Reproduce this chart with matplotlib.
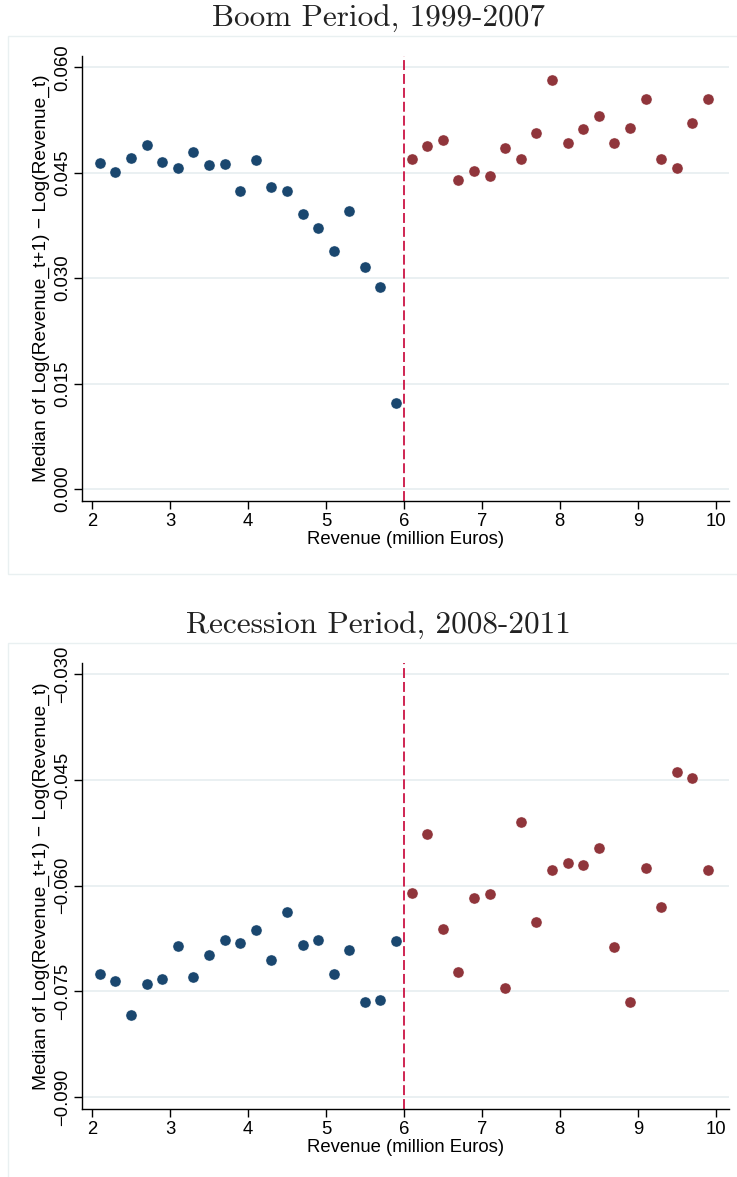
import numpy as np
import matplotlib
matplotlib.use("Agg")
import matplotlib.pyplot as plt
from matplotlib.patches import Rectangle
from matplotlib.ticker import FuncFormatter

# bins of revenue (million euros), 0.2 wide
x_below = [2.1, 2.3, 2.5, 2.7, 2.9, 3.1, 3.3, 3.5, 3.7, 3.9,
           4.1, 4.3, 4.5, 4.7, 4.9, 5.1, 5.3, 5.5, 5.7, 5.9]
x_above = [6.1, 6.3, 6.5, 6.7, 6.9, 7.1, 7.3, 7.5, 7.7, 7.9,
           8.1, 8.3, 8.5, 8.7, 8.9, 9.1, 9.3, 9.5, 9.7, 9.9]

boom_below = [0.0464, 0.0451, 0.0471, 0.0490, 0.0465, 0.0457, 0.0479, 0.0461, 0.0463, 0.0424,
              0.0468, 0.0429, 0.0424, 0.0391, 0.0372, 0.0338, 0.0395, 0.0316, 0.0287, 0.0122]
boom_above = [0.0469, 0.0488, 0.0497, 0.0440, 0.0453, 0.0446, 0.0485, 0.0469, 0.0506, 0.0582,
              0.0492, 0.0512, 0.0531, 0.0492, 0.0514, 0.0555, 0.0469, 0.0456, 0.0520, 0.0555]

rec_below = [-0.0726, -0.0736, -0.0784, -0.0739, -0.0733, -0.0686, -0.0730, -0.0698, -0.0677, -0.0681,
             -0.0663, -0.0705, -0.0638, -0.0684, -0.0677, -0.0726, -0.0692, -0.0765, -0.0763, -0.0679]
rec_above = [-0.0611, -0.0526, -0.0661, -0.0722, -0.0617, -0.0612, -0.0745, -0.0509, -0.0651, -0.0578,
             -0.0568, -0.0570, -0.0546, -0.0687, -0.0765, -0.0575, -0.0631, -0.0438, -0.0447, -0.0578]

cutoff = 6
xticks = [2, 3, 4, 5, 6, 7, 8, 9, 10]
boom_yticks = [0.000, 0.015, 0.030, 0.045, 0.060]
rec_yticks = [-0.090, -0.075, -0.060, -0.045, -0.030]

blue = "#1a476f"
red = "#90353b"
grid_col = "#e6eef0"
frame_col = "#e9f0f1"

plt.rcParams['font.family'] = ['Liberation Sans', 'DejaVu Sans']

fig = plt.figure(figsize=(7.37, 11.77), dpi=100)

# light outer boxes like stata graph region
fig.patches.append(Rectangle((8/737, 1-574/1177), 740/737, 538/1177, transform=fig.transFigure,
                             fill=False, edgecolor=frame_col, linewidth=1.0))
fig.patches.append(Rectangle((8/737, -0.01), 740/737, (1177-643)/1177 + 0.01, transform=fig.transFigure,
                             fill=False, edgecolor=frame_col, linewidth=1.0))

ax1 = fig.add_axes([82/737, 1-501/1177, 647/737, 445/1177])
ax2 = fig.add_axes([82/737, 1-1109/1177, 647/737, 446/1177])

def fmt(v, pos):
    return ("%.3f" % v).replace("-", "\u2212")

panels = [(ax1, boom_below, boom_above, boom_yticks, (-0.0017, 0.0616), "Boom Period, 1999-2007", 19),
          (ax2, rec_below, rec_above, rec_yticks, (-0.0917, -0.0284), "Recession Period, 2008-2011", 626)]

for ax, yb, ya, yt, ylim, title, ty in panels:
    ax.set_yticks(yt)
    ax.grid(axis='y', color=grid_col, linewidth=1.2, zorder=0)
    ax.axvline(cutoff, color="#cc1444", linewidth=1.3, dashes=(5.5, 2.2), zorder=2)
    ax.scatter(x_below, yb, s=64, color=blue, edgecolors='white', linewidths=0.3, zorder=3)
    ax.scatter(x_above, ya, s=64, color=red, edgecolors='white', linewidths=0.3, zorder=3)
    ax.set_xlim(1.872, 10.17)
    ax.set_ylim(*ylim)
    ax.set_xticks(xticks)
    ax.yaxis.set_major_formatter(FuncFormatter(fmt))
    for s in ['top', 'right']:
        ax.spines[s].set_visible(False)
    for s in ['left', 'bottom']:
        ax.spines[s].set_linewidth(1.0)
    ax.tick_params(axis='both', length=5.5, width=1.0, labelsize=13.3, pad=3)
    ax.tick_params(axis='y', pad=2)
    for lab in ax.get_yticklabels():
        lab.set_rotation(90)
        lab.set_va('center')
    ax.set_xlabel("Revenue (million Euros)", fontsize=13.3, labelpad=1)
    ax.set_ylabel("Median of Log(Revenue_t+1) \u2212 Log(Revenue_t)", fontsize=13.8, labelpad=3)
    fig.text(378/737, 1 - ty/1177, title, fontfamily='cmr10', fontsize=22.5,
             ha='center', va='center', color='#222222')

fig.savefig("out.png", dpi=100)
